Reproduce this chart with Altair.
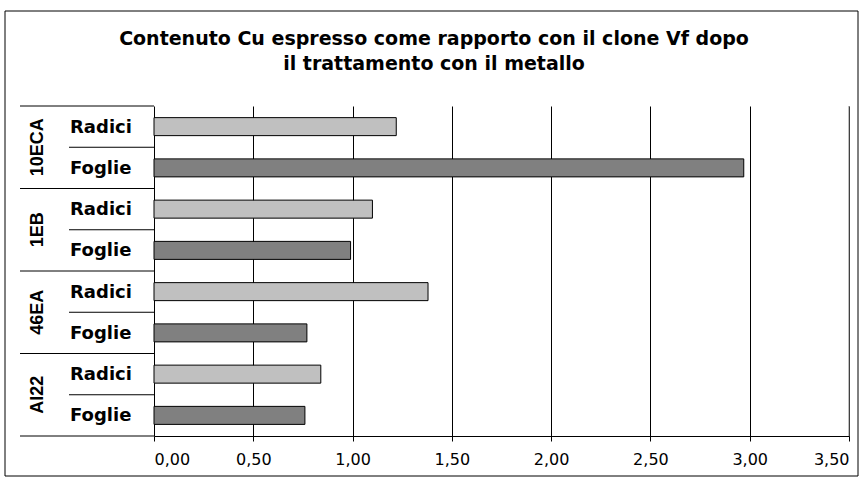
import altair as alt
import pandas as pd

groups = ["10ECA", "1EB", "46EA", "AI22"]
tissues = ["Radici", "Foglie"]
radici = [1.22, 1.10, 1.38, 0.84]
foglie = [2.97, 0.99, 0.77, 0.76]
x_ticks = [0.0, 0.5, 1.0, 1.5, 2.0, 2.5, 3.0, 3.5]
title_lines = ["Contenuto Cu espresso come rapporto con il clone Vf  dopo",
               "il trattamento con il metallo"]
colors = ["#C0C0C0", "#808080"]

rows = []
for g, r, f in zip(groups, radici, foglie):
    rows.append({"key": g + "|Radici", "group": g, "tissue": "Radici", "value": r})
    rows.append({"key": g + "|Foglie", "group": g, "tissue": "Foglie", "value": f})
df = pd.DataFrame(rows)
order = list(df["key"])
one = pd.DataFrame({"a": [0]})

WIDE = "DejaVu Sans"
ARIAL = "Liberation Sans"
yscale = alt.Scale(domain=order, paddingInner=0, paddingOuter=0)


def yenc(bp=None):
    if bp is None:
        return alt.Y("key:N", scale=yscale, axis=None)
    return alt.Y("key:N", scale=yscale, axis=None, bandPosition=bp)


bars = alt.Chart(df).mark_bar(size=18, stroke="black", strokeWidth=1).encode(
    x=alt.X("value:Q", scale=alt.Scale(domain=[0, 3.5], nice=False),
            axis=alt.Axis(values=x_ticks, title=None, grid=True, gridColor="black",
                          gridWidth=1, domainColor="black", tickColor="black", tickSize=5,
                          labelExpr="replace(format(datum.value, '.2f'), '.', ',')",
                          labelFont=WIDE, labelFontSize=16, labelColor="black",
                          labelPadding=10)),
    y=yenc(),
    color=alt.Color("tissue:N", scale=alt.Scale(domain=tissues, range=colors), legend=None),
)

sub_labels = alt.Chart(df).mark_text(align="left", baseline="alphabetic", dy=6, font=WIDE,
                                     fontSize=18, fontWeight="bold", color="black").encode(
    x=alt.value(-84), y=yenc(), text="tissue:N")

rad = df[df["tissue"] == "Radici"]
fog = df[df["tissue"] == "Foglie"]
last = df.iloc[[len(df) - 1]]

group_labels = alt.Chart(rad).mark_text(align="center", baseline="alphabetic", angle=270,
                                        font=ARIAL, fontSize=18, fontWeight="bold",
                                        color="black").encode(
    x=alt.value(-111), y=yenc(1), text="group:N")

group_lines = alt.Chart(rad).mark_rule(color="black", strokeWidth=1).encode(
    y=yenc(0), x=alt.value(-134), x2=alt.value(0))
sub_lines = alt.Chart(fog).mark_rule(color="black", strokeWidth=1).encode(
    y=yenc(0), x=alt.value(-85), x2=alt.value(0))
bottom_line = alt.Chart(last).mark_rule(color="black", strokeWidth=1).encode(
    y=yenc(1), x=alt.value(-134), x2=alt.value(0))

right_line = alt.Chart(one).mark_rule(color="#808080", strokeWidth=1).encode(
    x=alt.value(695), y=alt.value(0), y2=alt.value(330))

border = alt.Chart(one).mark_rect(fillOpacity=0, stroke="black", strokeWidth=1).encode(
    x=alt.value(-149), x2=alt.value(704), y=alt.value(-95), y2=alt.value(370))

title1 = alt.Chart(one).mark_text(align="center", baseline="alphabetic", font=WIDE, fontSize=19,
                                  fontWeight="bold", color="black").encode(
    x=alt.value(280), y=alt.value(-61), text=alt.value(title_lines[0]))
title2 = alt.Chart(one).mark_text(align="center", baseline="alphabetic", font=WIDE, fontSize=19,
                                  fontWeight="bold", color="black").encode(
    x=alt.value(280), y=alt.value(-36), text=alt.value(title_lines[1]))

chart = alt.layer(
    border, right_line, bars, sub_labels, group_labels, group_lines, sub_lines, bottom_line,
    title1, title2
).properties(
    width=695, height=330,
    padding={"left": 154, "top": 106, "right": 15, "bottom": 45},
    autosize=alt.AutoSizeParams(type="none"),
    background="white",
).configure_view(stroke=None)

chart.save("out.html", embed_options={"renderer": "svg", "actions": False})
